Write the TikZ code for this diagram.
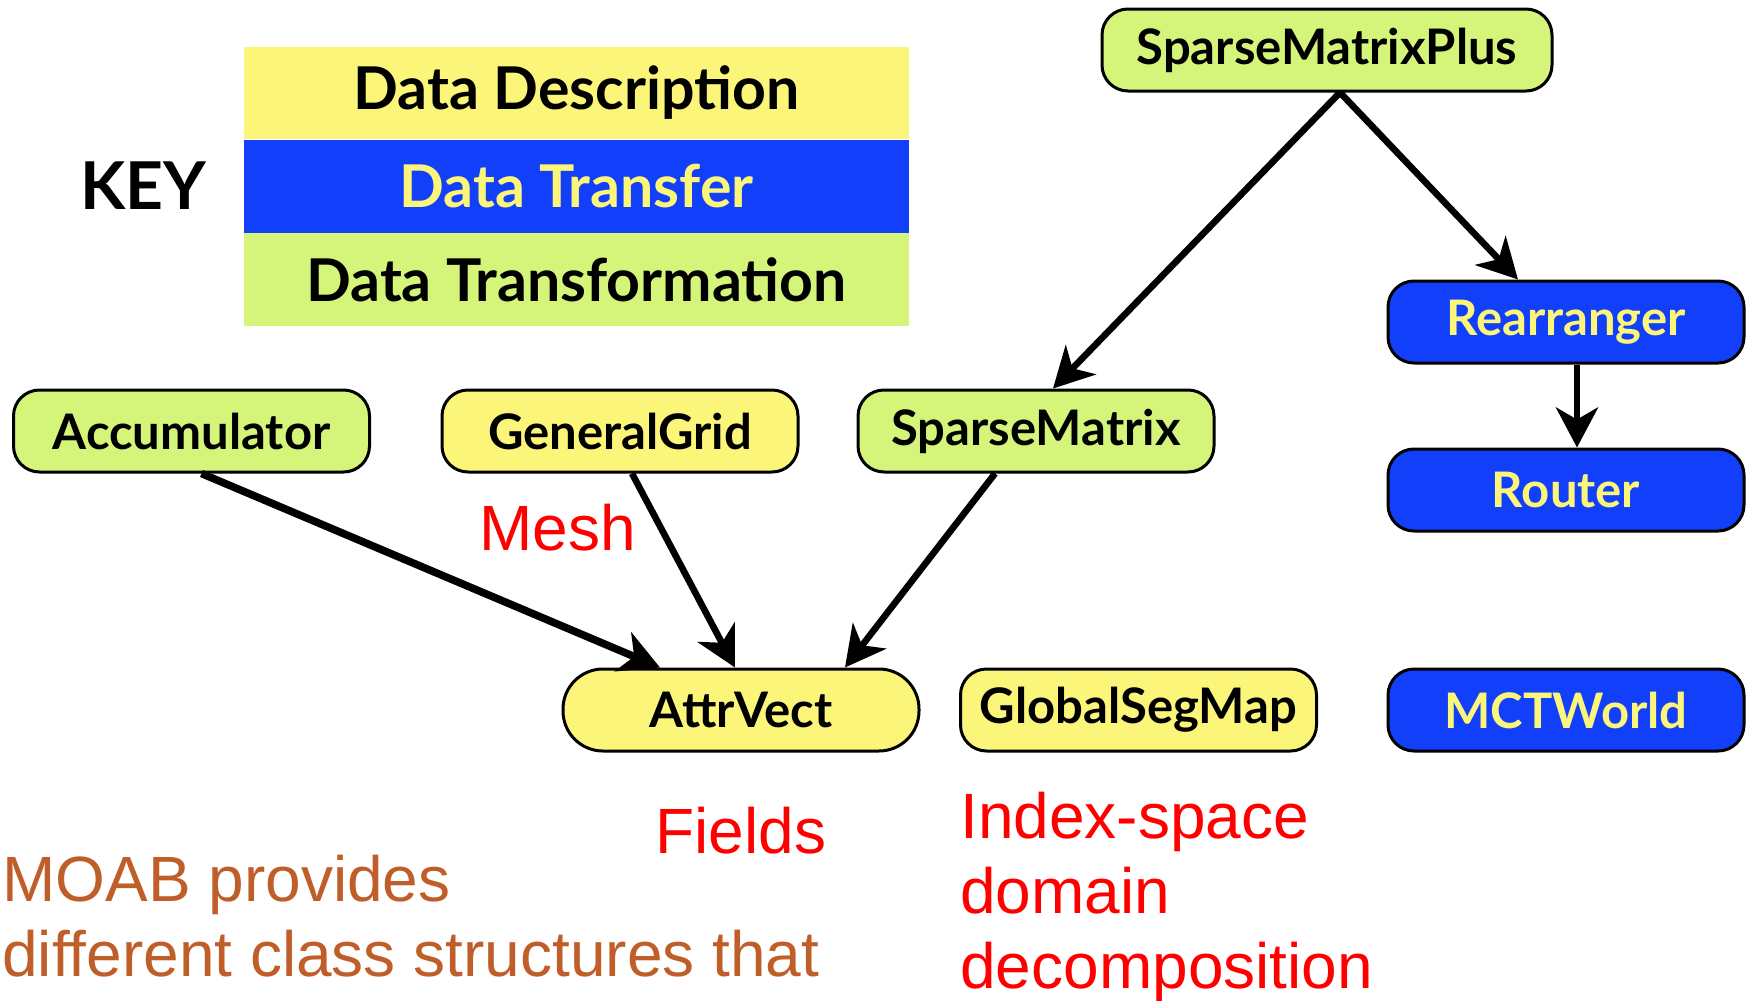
\documentclass[tikz,border=0pt]{standalone}
\usepackage{fontspec}
\setmainfont{Lato}
\newfontfamily\notefont{Liberation Sans}
\usepackage{tikz}
\usetikzlibrary{positioning, arrows.meta, calc}

\definecolor{descyellow}{RGB}{251,245,122}
\definecolor{formgreen}{RGB}{212,245,122}
\definecolor{xferblue}{RGB}{18,64,250}
\definecolor{notered}{RGB}{255,0,0}
\definecolor{notebrown}{RGB}{192,94,42}

\tikzset{
    cls/.style={draw=black, line width=1.5pt, rounded corners=13pt,
        minimum width=178pt, minimum height=41pt, inner sep=0pt,
        font=\bfseries\fontsize{24.5}{30}\selectfont},
    desc/.style={cls, fill=descyellow},
    xform/.style={cls, fill=formgreen},
    xfer/.style={cls, fill=xferblue, text=descyellow},
    keyrow/.style={minimum width=332.5pt, minimum height=46.25pt, inner sep=0pt,
        font=\bfseries\fontsize{29.5}{36}\selectfont},
    link/.style={line width=3.3pt, -{Stealth[length=20pt, width=21pt, inset=6pt]}},
    note/.style={anchor=base west, inner sep=0pt, text=notered, align=left,
        font=\notefont\fontsize{32}{37.5}\selectfont},
}

\begin{document}
\begin{tikzpicture}[x=0.5pt, y=-0.5pt]
    \useasboundingbox (0,0) rectangle (1747,1001);

    % key
    \node[font=\bfseries\fontsize{33}{40}\selectfont] (key) at (143,186) {KEY};
    \node[keyrow, fill=descyellow] (kdesc) at (576.5,93) {Data Description};
    \node[keyrow, fill=xferblue, text=descyellow, below=0pt of kdesc] (kxfer) {Data Transfer};
    \node[keyrow, fill=formgreen, below=0pt of kxfer] (kform) {Data Transformation};

    % classes
    \node[xform, minimum width=225pt] (smp) at (1327,50) {SparseMatrixPlus};
    \node[xfer] (rear) at (1566,322) {Rearranger};
    \node[xfer] (router) at (1566,490) {Router};
    \node[xform] (acc) at (191.5,431) {Accumulator};
    \node[desc] (gg) at (620,431) {GeneralGrid};
    \node[xform] (sm) at (1036,431) {SparseMatrix};
    \node[desc, rounded corners=20pt] (av) at (741,710) {AttrVect};
    \node[desc] (gsm) at (1138.5,710) {GlobalSegMap};
    \node[xfer] (mct) at (1566,710) {MCTWorld};

    % arrows
    \draw[link] ($(smp.south)+(13,0)$) -- ($(sm.north)+(17,0)$);
    \draw[link] ($(smp.south)+(13,0)$) -- ($(rear.north)+(-48,0)$);
    \draw[link] ($(rear.south)+(11,0)$) -- ($(router.north)+(11,0)$);
    \draw[link, line width=3.8pt] ($(acc.south)+(10,0)$) -- ($(av.north)+(-81,0)$);
    \draw[link] ($(gg.south)+(12,0)$) -- ($(av.north)+(-6,0)$);
    \draw[link] ($(sm.south)+(-41,0)$) -- ($(av.north)+(104,0)$);

    % notes (anchored at the last line)
    \node[note] (mesh) at (479,550) {Mesh};
    \node[note] (fields) at (655,853) {Fields};
    \node[note] (index) at (960,988) {Index-space\\domain\\decomposition};
    \node[note, text=notebrown] (moab) at (2,976) {MOAB provides\\different class structures that};
\end{tikzpicture}
\end{document}
